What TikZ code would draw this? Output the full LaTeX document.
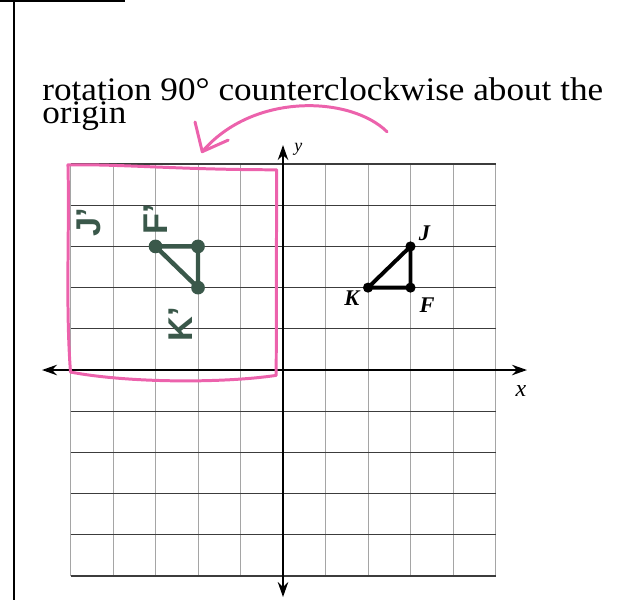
\documentclass[tikz,border=0pt]{standalone}
\usepackage{fontspec}
\setmainfont{Liberation Serif}
\setsansfont{Liberation Sans}
\usetikzlibrary{arrows.meta,positioning}
\definecolor{rotPink}{RGB}{236,98,172}
\definecolor{rotGreen}{RGB}{58,88,74}
\definecolor{gridLight}{RGB}{165,165,165}
\definecolor{gridDark}{RGB}{60,60,60}

\begin{document}
\begin{tikzpicture}[x=1cm,y=0.9694cm,
  gridv/.style={gridLight, line width=0.5pt},
  gridh/.style={gridDark, line width=0.75pt},
  axisline/.style={black, line width=1.1pt},
  ptdot/.style={fill=black},
  imgdot/.style={fill=rotGreen},
  ptlabel/.style={font=\fontsize{15}{15}\selectfont\bfseries\itshape},
  handlabel/.style={rotGreen, rotate=90, inner sep=0pt, font=\sffamily\bfseries\fontsize{23}{23}\selectfont},
  pinkpen/.style={rotPink, line width=2pt, line cap=round, line join=round}]
\useasboundingbox (-6.659,-5.583) rectangle (8.094,8.981);

% scan border
\draw[line width=1.2pt] (-6.33,8.98) -- (-6.33,-5.58);
\draw[line width=1.2pt] (-6.66,8.95) -- (-3.72,8.95);

% title
\node[anchor=base west, align=left, inner sep=0pt, xscale=1.07, transform shape,
  font=\fontsize{22}{15}\selectfont] (title) at (-5.67,5.99)
  {rotation 90° counterclockwise about the\\origin};

% grid
\foreach \i in {-5,...,5} {
  \draw[gridv] (\i,-5) -- (\i,5);
}
\foreach \j in {-5,...,-1,1,2,3,4,5} {
  \draw[gridh] (-5,\j) -- (5,\j);
}

% axes
\coordinate (xl) at (-5.67,0);
\coordinate (xr) at (5.74,0);
\coordinate (yb) at (0,-5.51);
\coordinate (yt) at (0,5.46);
\draw[axisline, {Stealth[length=10pt,width=7pt]}-{Stealth[length=10pt,width=7pt]}] (xl) -- (xr);
\draw[axisline, {Stealth[length=10pt,width=7pt]}-{Stealth[length=10pt,width=7pt]}] (yb) -- (yt);
\node[font=\itshape\fontsize{16}{16}\selectfont] (xlab) at (5.6,-0.5) {x};
\node[font=\itshape\fontsize{12}{12}\selectfont] (ylab) at (0.36,5.36) {y};

% preimage JKF
\coordinate (K) at (2,2);
\coordinate (F) at (3,2);
\coordinate (J) at (3,3);
\draw[line width=2.6pt, line join=round] (K) -- (F) -- (J) -- cycle;
\foreach \p in {K,F,J} \fill[ptdot] (\p) circle (3.4pt);
\node[ptlabel] (Jlab) at (3.33,3.33) {J};
\node[ptlabel] (Klab) at (1.62,1.75) {K};
\node[ptlabel] (Flab) at (3.39,1.57) {F};

% image J'K'F'
\coordinate (Ji) at (-3,3);
\coordinate (Fi) at (-2,3);
\coordinate (Ki) at (-2,2);
\draw[rotGreen, line width=3pt, line join=round] (Ji) -- (Fi) -- (Ki) -- cycle;
\foreach \p in {Ji,Fi,Ki} \fill[imgdot] (\p) circle (4.6pt);
\node[handlabel] (Jilab) at (-4.58,3.58) {J'};
\node[handlabel] (Filab) at (-3.0,3.66) {F'};
\node[handlabel] (Kilab) at (-2.4,1.12) {K'};

% pink box round the image
\draw[pinkpen] (-5.06,4.98) .. controls (-3.8,5.0) and (-2.4,4.86) .. (-0.15,4.86)
  -- (-0.16,-0.13)
  .. controls (-1.4,-0.32) and (-3.6,-0.32) .. (-5.0,-0.05)
  .. controls (-5.12,1.6) and (-5.02,3.4) .. cycle;

% pink turn arrow
\coordinate (arrS) at (2.45,5.78);
\coordinate (arrE) at (-1.9,5.30);
\draw[pinkpen] (arrS) .. controls (1.6,6.65) and (-0.7,6.75) .. (arrE);
\draw[pinkpen] (-2.07,6.02) -- (arrE) -- (-1.29,5.58);
\end{tikzpicture}
\end{document}
